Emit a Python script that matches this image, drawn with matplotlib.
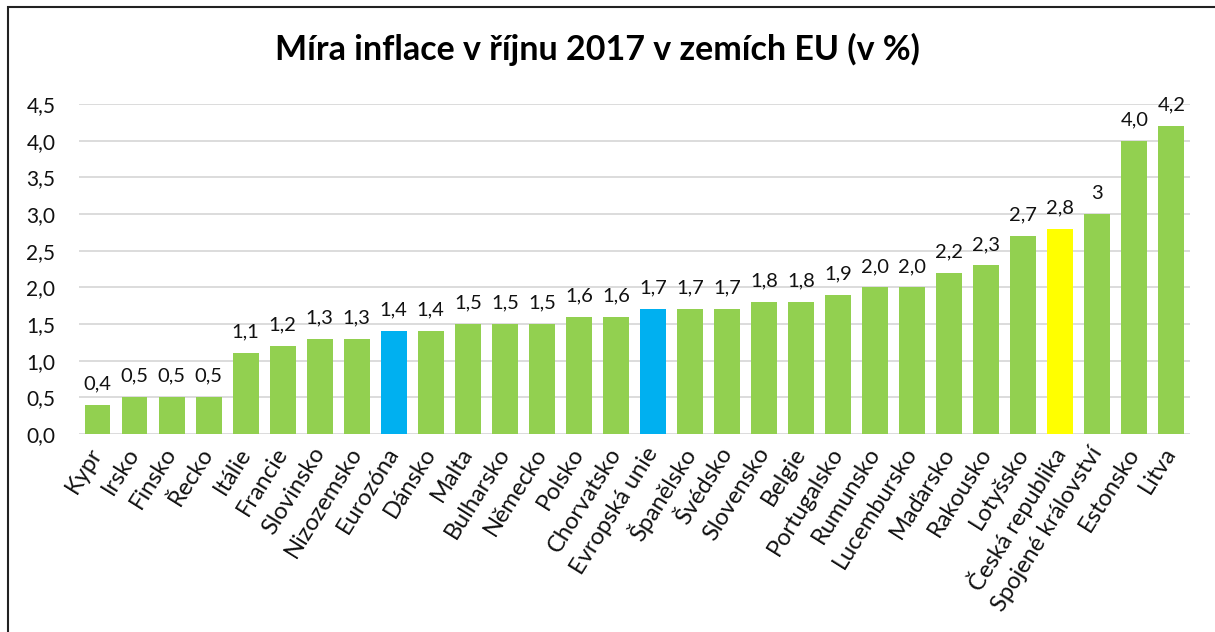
import matplotlib.pyplot as plt
from matplotlib.patches import Rectangle

# Data
zeme = ["Kypr", "Irsko", "Finsko", "Řecko", "Itálie", "Francie", "Slovinsko",
        "Nizozemsko", "Eurozóna", "Dánsko", "Malta", "Bulharsko", "Německo",
        "Polsko", "Chorvatsko", "Evropská unie", "Španělsko", "Švédsko",
        "Slovensko", "Belgie", "Portugalsko", "Rumunsko", "Lucembursko",
        "Maďarsko", "Rakousko", "Lotyšsko", "Česká republika",
        "Spojené království", "Estonsko", "Litva"]
inflace = [0.4, 0.5, 0.5, 0.5, 1.1, 1.2, 1.3, 1.3, 1.4, 1.4, 1.5, 1.5, 1.5,
           1.6, 1.6, 1.7, 1.7, 1.7, 1.8, 1.8, 1.9, 2.0, 2.0, 2.2, 2.3, 2.7,
           2.8, 3.0, 4.0, 4.2]
popisky = ["0,4", "0,5", "0,5", "0,5", "1,1", "1,2", "1,3", "1,3", "1,4", "1,4",
           "1,5", "1,5", "1,5", "1,6", "1,6", "1,7", "1,7", "1,7", "1,8", "1,8",
           "1,9", "2,0", "2,0", "2,2", "2,3", "2,7", "2,8", "3", "4,0", "4,2"]
y_ticks = [0.0, 0.5, 1.0, 1.5, 2.0, 2.5, 3.0, 3.5, 4.0, 4.5]

plt.rcParams['font.family'] = ['Lato', 'DejaVu Sans']

# Barvy
barvy = []
for z in zeme:
    if z in ("Eurozóna", "Evropská unie"):
        barvy.append("#00B0F0")
    elif z == "Česká republika":
        barvy.append("#FFFF00")
    else:
        barvy.append("#92D050")

fig = plt.figure(figsize=(12.15, 6.32), dpi=100)
ax = fig.add_axes([0.065, 0.3133, 0.9144, 0.5221])

x = list(range(len(zeme)))
ax.bar(x, inflace, width=0.7, color=barvy, zorder=2)

# Popisky hodnot nad sloupci
for i, v in enumerate(inflace):
    ax.text(i, v + 0.17, popisky[i], ha='center', va='bottom', fontsize=14.5,
            color='#111111')

ax.set_xlim(-0.5, len(zeme) - 0.5)
ax.set_ylim(0, 4.5)
ax.set_yticks(y_ticks)
ax.set_yticklabels([f"{t:.1f}".replace(".", ",") for t in y_ticks], fontsize=15)
ax.set_xticks(x)
ax.set_xticklabels(zeme, rotation=58, ha='right', va='center',
                   rotation_mode='anchor', fontsize=17)
ax.tick_params(axis='both', length=0, colors='#111111')
ax.tick_params(axis='x', pad=11)
ax.tick_params(axis='y', pad=17)
ax.grid(axis='y', color='#D9D9D9', linewidth=1.3, zorder=0)
for s in ax.spines.values():
    s.set_visible(False)

fig.text(0.492, 0.922, "Míra inflace v říjnu 2017 v zemích EU (v %)",
         ha='center', va='center', fontsize=24.5, fontweight='bold')

# Rámeček grafu
fig.patches.append(Rectangle((8 / 1215, -0.1), 1.2, 1.1 - 7 / 632,
                             transform=fig.transFigure, fill=False,
                             edgecolor='#222222', linewidth=1.5))

plt.savefig("out.png", dpi=100)
